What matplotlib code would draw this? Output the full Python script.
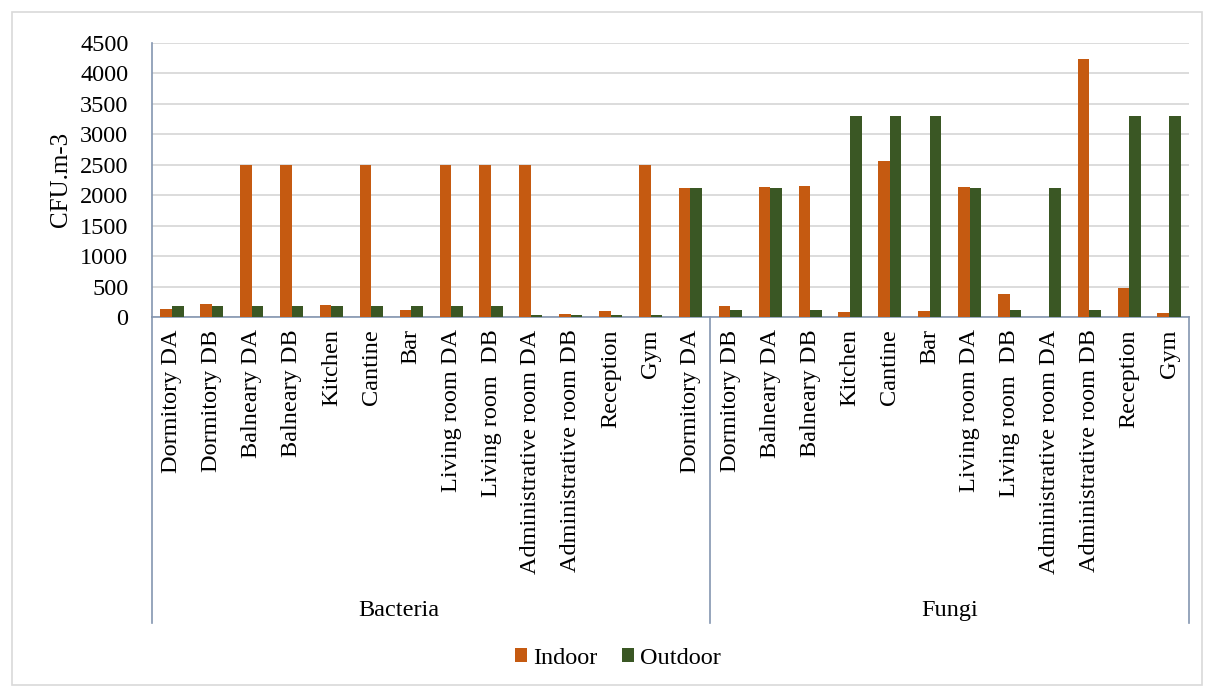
import numpy as np
import matplotlib.pyplot as plt
from matplotlib.patches import Rectangle
import matplotlib.transforms as mtransforms

plt.rcParams['font.family'] = ['Liberation Serif', 'DejaVu Serif']

groups = ['Bacteria', 'Fungi']
bacteria_sites = ['Dormitory DA', 'Dormitory DB', 'Balneary DA', 'Balneary DB', 'Kitchen',
                  'Cantine', 'Bar', 'Living room DA', 'Living room  DB', 'Administrative room DA',
                  'Administrative room DB', 'Reception', 'Gym', 'Dormitory DA']
fungi_sites = ['Dormitory DB', 'Balneary DA', 'Balneary DB', 'Kitchen', 'Cantine', 'Bar',
               'Living room DA', 'Living room  DB', 'Administrative room DA',
               'Administrative room DB', 'Reception', 'Gym']

bacteria_indoor = [130, 210, 2500, 2500, 190, 2500, 110, 2500, 2500, 2500, 50, 100, 2500, 2110]
bacteria_outdoor = [180, 180, 180, 180, 180, 180, 180, 180, 180, 40, 40, 40, 40, 2110]
fungi_indoor = [180, 2130, 2150, 80, 2560, 100, 2130, 380, 0, 4240, 470, 60]
fungi_outdoor = [110, 2110, 110, 3300, 3300, 3300, 2110, 110, 2110, 110, 3300, 3300]

labels = bacteria_sites + fungi_sites
indoor = bacteria_indoor + fungi_indoor
outdoor = bacteria_outdoor + fungi_outdoor
x = np.arange(len(labels))

fig = plt.figure(figsize=(12.05, 6.87), dpi=100)
ax = fig.add_axes([152 / 1205, 1 - 317 / 687, (1189 - 152) / 1205, (317 - 42.7) / 687])

# outer chart frame
fig.patches.append(Rectangle((12 / 1205, 2 / 687), 1190 / 1205, 673 / 687,
                             transform=fig.transFigure, fill=False,
                             edgecolor='#D9D9D9', linewidth=1.2))

w = 0.29
ax.bar(x - w / 2, indoor, w, color='#C55A11', label='Indoor', zorder=3)
ax.bar(x + w / 2, outdoor, w, color='#3A5724', label='Outdoor', zorder=3)

ax.set_xlim(-0.5, len(labels) - 0.5)
ax.set_ylim(0, 4500)
ax.set_yticks(np.arange(0, 4501, 500))
ax.yaxis.grid(True, color='#D9D9D9', linewidth=1.3, zorder=0)
ax.tick_params(axis='y', length=0, pad=17, labelsize=17.5)
ax.set_ylabel('CFU.m-3', fontsize=18, labelpad=6)

ax.set_xticks(x)
ax.set_xticklabels(labels, rotation=90, fontsize=17.5, va='top', ha='center')
ax.tick_params(axis='x', length=0, pad=9)

axis_color = '#8496B0'
for side in ['top', 'right']:
    ax.spines[side].set_visible(False)
ax.spines['left'].set_color(axis_color)
ax.spines['bottom'].set_color(axis_color)
ax.spines['left'].set_linewidth(1.2)
ax.spines['bottom'].set_linewidth(1.2)

# group separators below the category axis
trans = mtransforms.blended_transform_factory(ax.transData, ax.transAxes)
n_b = len(bacteria_sites)
for xs in [-0.5, n_b - 0.5, len(labels) - 0.5]:
    ax.plot([xs, xs], [0, -1.116], transform=trans, color=axis_color,
            linewidth=1.2, clip_on=False)

ax.text(5.7, -1.07, groups[0], transform=trans, ha='center', va='center', fontsize=17.5)
ax.text(n_b - 0.5 + len(fungi_sites) / 2, -1.07, groups[1], transform=trans,
        ha='center', va='center', fontsize=17.5)

fig.legend(loc='center', bbox_to_anchor=(618 / 1205, 1 - 658 / 687), ncol=2,
           frameon=False, fontsize=17.5, handlelength=0.5, handleheight=0.5,
           handletextpad=0.25, columnspacing=1.0)

fig.savefig('out.png', dpi=100)
